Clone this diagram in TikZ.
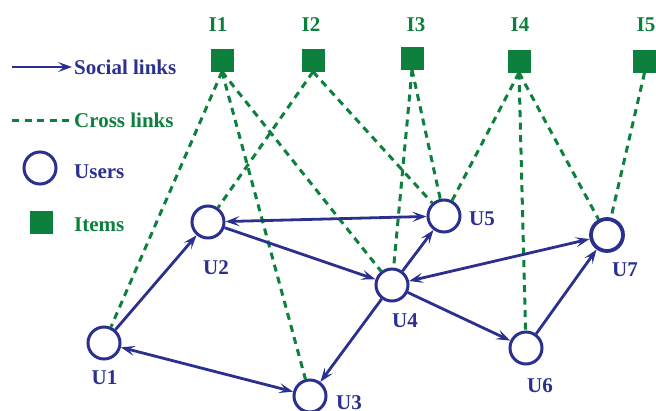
\documentclass[tikz,border=0pt]{standalone}
\usepackage{fontspec}
\setmainfont{Liberation Serif}
\usetikzlibrary{arrows.meta}
\definecolor{ublue}{RGB}{43,48,143}
\definecolor{igreen}{RGB}{14,128,62}
\begin{document}
\begin{tikzpicture}[x=1pt,y=-1pt,
  user/.style={circle,draw=ublue,line width=3pt,minimum size=32pt,inner sep=0pt},
  item/.style={rectangle,fill=igreen,minimum size=23pt,inner sep=0pt},
  ulab/.style={text=ublue,font=\fontsize{21}{23}\selectfont\bfseries,inner sep=0pt},
  ilab/.style={text=igreen,font=\fontsize{21}{23}\selectfont\bfseries,inner sep=0pt},
  tip/.style={Stealth[length=14pt,width=10pt,inset=6pt]},
  social/.style={draw=ublue,line width=2.8pt,-{Stealth[length=14pt,width=10pt,inset=6pt]}},
  bisocial/.style={draw=ublue,line width=2.8pt,{Stealth[length=14pt,width=10pt,inset=6pt]}-{Stealth[length=14pt,width=10pt,inset=6pt]}},
  cross/.style={draw=igreen,line width=3pt,dash pattern=on 7pt off 5.5pt}]
\useasboundingbox (0,0) rectangle (656,410);
% users
\node[user] (U1) at (104,343) {};
\node[user] (U2) at (208,222) {};
\node[user] (U3) at (310,396) {};
\node[user] (U4) at (392,285) {};
\node[user] (U5) at (444,216) {};
\node[user] (U6) at (526,348) {};
\node[user,line width=3.8pt] (U7) at (607,235) {};
\node[ulab] (L1) at (104.5,378) {U1};
\node[ulab] (L2) at (216,268) {U2};
\node[ulab] (L3) at (349,403) {U3};
\node[ulab] (L4) at (405,321) {U4};
\node[ulab] (L5) at (482,219) {U5};
\node[ulab] (L6) at (540,386) {U6};
\node[ulab] (L7) at (625,270) {U7};
% items
\node[item] (I1) at (222,60) {};
\node[item] (I2) at (313,60) {};
\node[item] (I3) at (412,58) {};
\node[item] (I4) at (519,61) {};
\node[item] (I5) at (644.5,61) {};
\node[ilab] (T1) at (218,25) {I1};
\node[ilab] (T2) at (311,25) {I2};
\node[ilab] (T3) at (416,25) {I3};
\node[ilab] (T4) at (520,25) {I4};
\node[ilab] (T5) at (646,25) {I5};
% cross links
\draw[cross] (I1.south) -- (U1);
\draw[cross] (I1.south) -- (U3);
\draw[cross] (I1.south) -- (U4);
\draw[cross] (I2.south) -- (U2);
\draw[cross] (I2.south) -- (U5);
\draw[cross] (I3.south) -- (U4);
\draw[cross] (I3.south) -- (U5);
\draw[cross] (I4.south) -- (U5);
\draw[cross] (I4.south) -- (U6);
\draw[cross] (I4.south) -- (U7);
\draw[cross] (I5.south) -- (U7);
% social links
\draw[social] (U1) -- (U2);
\draw[bisocial] (U1) -- (U3);
\draw[bisocial] (U2) -- (U5);
\draw[social] (U2) -- (U4);
\draw[social] (U4) -- (U3);
\draw[social] (U4) -- (U5);
\draw[bisocial] (U4) -- (U7);
\draw[social] (U4) -- (U6);
\draw[social] (U6) -- (U7);
% legend
\coordinate (a1) at (12,67);
\coordinate (a2) at (72,67);
\draw[social] (a1) -- (a2);
\node[ulab,anchor=west] (ls) at (74,67) {Social links};
\coordinate (b1) at (12,120);
\coordinate (b2) at (72,120);
\draw[cross] (b1) -- (b2);
\node[ilab,anchor=west] (lc) at (74,120) {Cross links};
\node[user] (lu) at (40,168) {};
\node[ulab,anchor=west] (lut) at (74,172) {Users};
\node[item] (li) at (41,222) {};
\node[ilab,anchor=west] (lit) at (74,225) {Items};
\end{tikzpicture}
\end{document}
